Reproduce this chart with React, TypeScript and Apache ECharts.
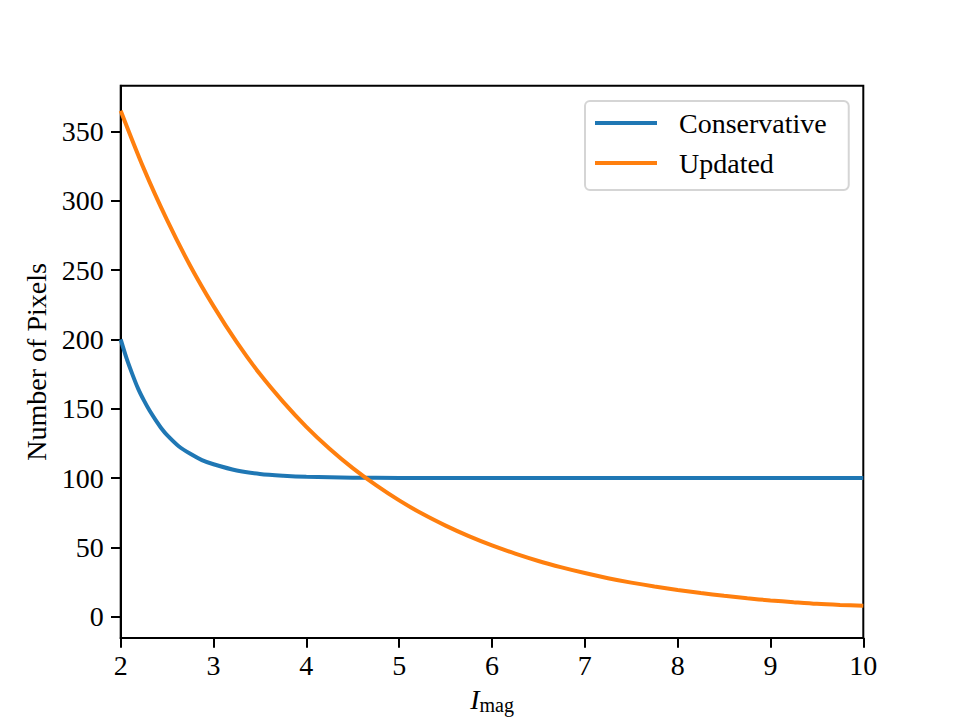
import React, { useEffect, useRef } from "react";
import * as echarts from "echarts";

// Data
const conservativeX = [2, 2.0625, 2.125, 2.1875, 2.25, 2.3125, 2.375, 2.4375, 2.5, 2.625, 2.75, 2.875, 3, 3.25, 3.5, 3.75, 4, 4.5, 5, 6, 7, 8, 9, 10];
const conservativeY = [200, 186.5, 175, 164.5, 156, 148.5, 142, 136, 131, 123, 117.5, 113, 110, 105.5, 103, 101.7, 100.9, 100.3, 100.1, 100, 100, 100, 100, 100];

const updatedX = [2, 2.25, 2.5, 2.75, 3, 3.25, 3.5, 3.75, 4, 4.25, 4.5, 4.75, 5, 5.25, 5.5, 5.75, 6, 6.25, 6.5, 6.75, 7, 7.25, 7.5, 7.75, 8, 8.25, 8.5, 8.75, 9, 9.25, 9.5, 9.75, 10];
const updatedY = [365, 323, 286, 253, 224, 198, 175, 155, 137, 121.2, 107.2, 94.9, 83.9, 74.2, 65.7, 58.1, 51.4, 45.5, 40.2, 35.6, 31.5, 27.8, 24.6, 21.8, 19.3, 17.1, 15.1, 13.3, 11.8, 10.5, 9.3, 8.5, 7.9];

const yTicks = [0, 50, 100, 150, 200, 250, 300, 350];
const xTicks = [2, 3, 4, 5, 6, 7, 8, 9, 10];

const seriesNames = ["Conservative", "Updated"];
const FONT = "'Liberation Serif', 'DejaVu Serif', serif";

export default function App() {
  const ref = useRef<HTMLDivElement>(null);
  useEffect(() => {
    if (!ref.current) return;
    const chart = echarts.init(ref.current, null, { renderer: "svg" });
    const zip = (xs: number[], ys: number[]) => xs.map((x, i) => [x, ys[i]]);
    chart.setOption({
      animation: false,
      backgroundColor: "#ffffff",
      textStyle: { fontFamily: FONT },
      grid: {
        left: 120.7,
        right: 96.7,
        top: 85.7,
        bottom: 79.3,
        show: true,
        borderColor: "#000",
        borderWidth: 2,
        backgroundColor: "transparent",
      },
      legend: {
        orient: "vertical",
        left: 585,
        top: 101,
        data: seriesNames,
        icon: "rect",
        itemWidth: 62,
        itemHeight: 4,
        itemGap: 12,
        padding: [8, 22, 13, 10],
        backgroundColor: "#ffffff",
        borderColor: "#d5d5d5",
        borderWidth: 2,
        borderRadius: 5,
        textStyle: { fontFamily: FONT, fontSize: 28, color: "#000", lineHeight: 28, padding: [0, 0, 0, 17] },
      },
      xAxis: {
        type: "value",
        min: 2,
        max: 10,
        interval: 1,
        splitLine: { show: false },
        axisLine: { show: true, onZero: false, lineStyle: { color: "#000", width: 2 } },
        axisTick: { show: true, length: 9.7, lineStyle: { color: "#000", width: 2 }, customValues: xTicks },
        axisLabel: { color: "#000", fontSize: 28, fontFamily: FONT, margin: 13, customValues: xTicks },
        name: "{i|I}{s|mag}",
        nameLocation: "middle",
        nameGap: 43,
        nameTextStyle: {
          rich: {
            i: { fontFamily: FONT, fontStyle: "italic", fontSize: 28, lineHeight: 28, color: "#000" },
            s: { fontFamily: FONT, fontSize: 20, lineHeight: 28, padding: [11, 0, 0, 0], color: "#000" },
          },
        },
      },
      yAxis: {
        type: "value",
        min: -15.4,
        max: 383,
        splitLine: { show: false },
        axisLine: { show: true, onZero: false, lineStyle: { color: "#000", width: 2 } },
        axisTick: { show: true, length: 9.7, lineStyle: { color: "#000", width: 2 }, customValues: yTicks },
        axisLabel: { color: "#000", fontSize: 28, fontFamily: FONT, margin: 17, customValues: yTicks },
        name: "Number of Pixels",
        nameLocation: "middle",
        nameGap: 63,
        nameTextStyle: { fontFamily: FONT, fontSize: 28, lineHeight: 28, color: "#000" },
      },
      series: [
        {
          name: seriesNames[0],
          type: "line",
          data: zip(conservativeX, conservativeY),
          showSymbol: false,
          symbol: "none",
          smooth: 0.3,
          color: "#1f77b4",
          lineStyle: { color: "#1f77b4", width: 4 },
        },
        {
          name: seriesNames[1],
          type: "line",
          data: zip(updatedX, updatedY),
          showSymbol: false,
          symbol: "none",
          smooth: 0.3,
          color: "#ff7f0e",
          lineStyle: { color: "#ff7f0e", width: 4 },
        },
      ],
    });
    return () => chart.dispose();
  }, []);
  return (
    <div
      ref={ref}
      style={{ position: "fixed", left: 0, top: 0, width: 960, height: 720, background: "#fff" }}
    />
  );
}
